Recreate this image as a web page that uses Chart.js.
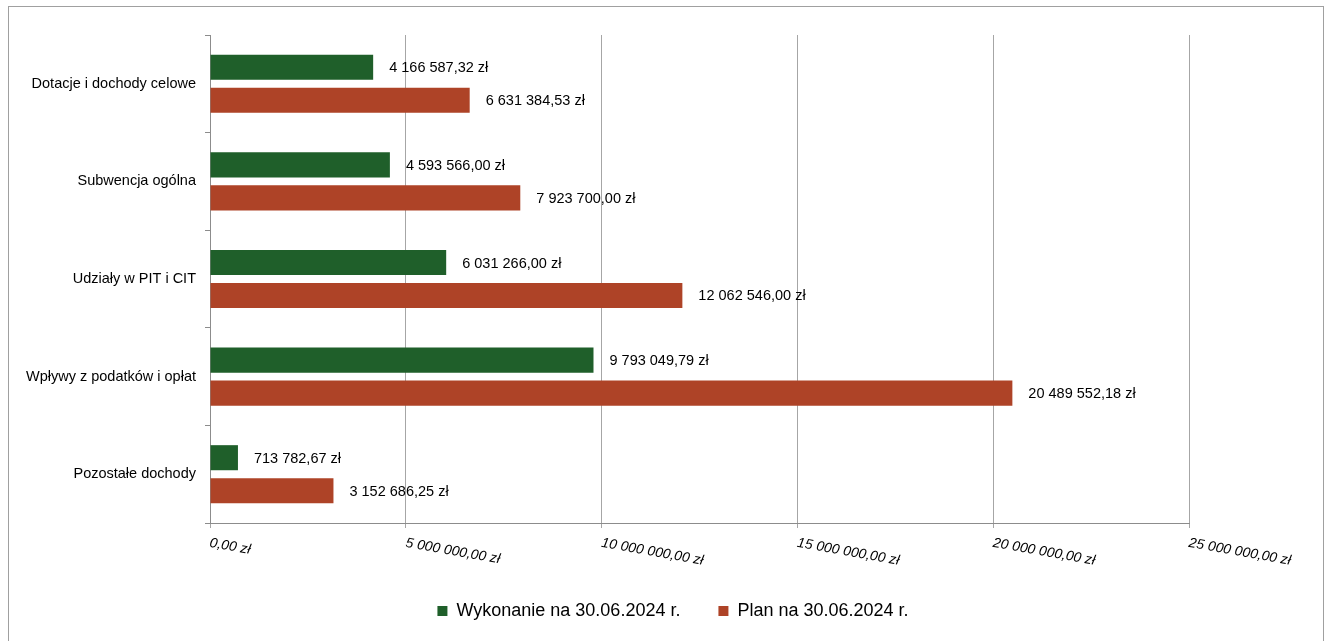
<!DOCTYPE html>
<html>
<head>
<meta charset="utf-8">
<script src="https://cdn.jsdelivr.net/npm/chart.js@4/dist/chart.umd.min.js"></script>
<style>
  html, body { margin: 0; padding: 0; background: #fff; }
  #wrap { position: relative; width: 1326px; height: 641px; overflow: hidden; }
  #frame { position: absolute; left: 8px; top: 6px; width: 1316px; height: 700px;
           box-sizing: border-box; border: 1px solid #a0a0a0; pointer-events: none; }
</style>
</head>
<body>
<div id="wrap">
  <canvas id="dochody" width="1326" height="641"></canvas>
  <div id="frame"></div>
</div>
<script>
var kategorie = ["Dotacje i dochody celowe", "Subwencja ogólna", "Udziały w PIT i CIT", "Wpływy z podatków i opłat", "Pozostałe dochody"];
var wykonanie = [4166587.32, 4593566.00, 6031266.00, 9793049.79, 713782.67];
var plan = [6631384.53, 7923700.00, 12062546.00, 20489552.18, 3152686.25];
var serie = ["Wykonanie na 30.06.2024 r.", "Plan na 30.06.2024 r."];
var osX = [0, 5000000, 10000000, 15000000, 20000000, 25000000];

var font = "'Liberation Sans', Arial, sans-serif";

function zl(v) {
    var parts = v.toFixed(2).split(".");
    var cale = parts[0].replace(/\B(?=(\d{3})+(?!\d))/g, " ");
    return cale + "," + parts[1] + " zł";
}

// etykiety wartosci i opisy osi X rysowane recznie
var etykiety = {
    id: "etykiety",
    afterDraw: function(chart) {
        var ctx = chart.ctx;
        ctx.save();
        ctx.fillStyle = "#000";
        ctx.font = "14.5px " + font;
        ctx.textAlign = "left";
        ctx.textBaseline = "middle";
        chart.data.datasets.forEach(function(ds, i) {
            chart.getDatasetMeta(i).data.forEach(function(bar, j) {
                ctx.fillText(zl(ds.data[j]), bar.x + 16, bar.y + 1);
            });
        });
        var sx = chart.scales.x;
        ctx.font = "italic 14px " + font;
        ctx.textBaseline = "top";
        osX.forEach(function(v) {
            var px = sx.getPixelForValue(v);
            ctx.save();
            ctx.translate(px + 1, sx.top + 13);
            ctx.rotate(10 * Math.PI / 180);
            ctx.fillText(zl(v), 0, 0);
            ctx.restore();
        });
        ctx.restore();
    }
};

var canvas = document.getElementById("dochody");
var ctx = canvas.getContext("2d");
var data = {
    labels: kategorie,
    datasets: [
        {
            label: serie[0],
            data: wykonanie,
            backgroundColor: "#1f5f2a",
            barPercentage: 0.76,
            categoryPercentage: 0.676
        },
        {
            label: serie[1],
            data: plan,
            backgroundColor: "#ae4327",
            barPercentage: 0.76,
            categoryPercentage: 0.676
        }
    ]
};
var options = {
    indexAxis: "y",
    responsive: false,
    animation: false,
    layout: { padding: { left: 20, right: 0, top: 35, bottom: 11 } },
    plugins: {
        legend: {
            display: true,
            position: "bottom",
            labels: {
                boxWidth: 10,
                boxHeight: 10,
                color: "#000",
                padding: 38,
                font: { size: 18, family: font }
            }
        },
        tooltip: { enabled: false },
        title: { display: false }
    },
    scales: {
        x: {
            type: "linear",
            min: 0,
            max: 25000000,
            ticks: { display: false, stepSize: 5000000 },
            grid: { color: "#a6a6a6", tickLength: 5 },
            border: { color: "#8c8c8c" },
            afterFit: function(s) { s.height = 41; }
        },
        y: {
            type: "category",
            ticks: { color: "#000", padding: 9, font: { size: 14.5, family: font } },
            grid: { drawOnChartArea: false, tickLength: 5, color: "#8c8c8c", offset: true },
            border: { color: "#8c8c8c" },
            afterFit: function(s) { s.width = 190; }
        },
        yR: {
            type: "linear",
            position: "right",
            display: true,
            ticks: { display: false },
            grid: { display: false },
            border: { display: false },
            afterFit: function(s) { s.width = 137; }
        }
    }
};
var wykres = new Chart(ctx, {
    type: "bar",
    data: data,
    options: options,
    plugins: [etykiety]
});
</script>
</body>
</html>
